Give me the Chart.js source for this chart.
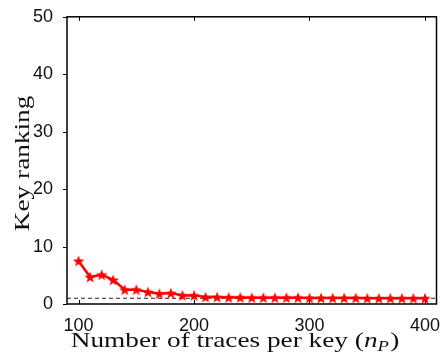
<!DOCTYPE html>
<html>
<head>
<meta charset="utf-8">
<script src="https://cdn.jsdelivr.net/npm/chart.js@4"></script>
<style>
  html, body { margin: 0; padding: 0; background: #fff; }
  #wrap { width: 445px; height: 360px; }
</style>
</head>
<body>
<div id="wrap"><canvas id="grafico"></canvas></div>
<script>
// dados
const nTraces = [100, 110, 120, 130, 140, 150, 160, 170, 180, 190, 200, 210, 220, 230, 240, 250,
  260, 270, 280, 290, 300, 310, 320, 330, 340, 350, 360, 370, 380, 390, 400]
const keyRanking = [7.5, 4.7, 5.1, 4.2, 2.5, 2.5, 2.1, 1.8, 1.9, 1.5, 1.5, 1.2, 1.2, 1.15, 1.15, 1.1,
  1.1, 1.1, 1.1, 1.1, 1.05, 1.05, 1.05, 1.05, 1.05, 1.0, 1.0, 1.0, 1.0, 1.0, 1.0]
const refLevel = 1
const xRange = [90, 410]
const yTicks = [0, 10, 20, 30, 40, 50]
const xTicks = [100, 200, 300, 400]

// estrela cheia para os marcadores
function makeStar(r, color) {
  const c = document.createElement('canvas')
  const s = Math.ceil(r * 2 + 2)
  c.width = s; c.height = s
  const g = c.getContext('2d')
  g.translate(s / 2, s / 2 + r * 0.1)
  g.beginPath()
  for (let i = 0; i < 10; i++) {
    const rad = i % 2 === 0 ? r : r * 0.42
    const a = -Math.PI / 2 + i * Math.PI / 5
    g.lineTo(rad * Math.cos(a), rad * Math.sin(a))
  }
  g.closePath()
  g.fillStyle = color
  g.fill()
  return c
}
const star = makeStar(6, '#ff0000')

// moldura, marcas e títulos
const framePlugin = {
  id: 'frame',
  afterDraw(chart) {
    const { ctx, chartArea: a, scales } = chart
    ctx.save()
    ctx.strokeStyle = '#000'
    ctx.lineWidth = 1.5
    ctx.strokeRect(a.left, a.top, a.right - a.left, a.bottom - a.top)
    ctx.lineWidth = 1
    ctx.beginPath()
    xTicks.forEach(v => {
      const x = Math.round(scales.x.getPixelForValue(v)) + 0.5
      ctx.moveTo(x, a.bottom); ctx.lineTo(x, a.bottom - 4)
      ctx.moveTo(x, a.top); ctx.lineTo(x, a.top + 4)
    })
    yTicks.forEach(v => {
      const y = Math.round(scales.y.getPixelForValue(v)) + 0.5
      ctx.moveTo(a.left, y); ctx.lineTo(a.left - 4, y)
    })
    ctx.stroke()

    ctx.fillStyle = '#111'
    ctx.textBaseline = 'alphabetic'
    const stretch = 1.24
    // título do eixo x com n_P
    const base = 'Number of traces per key ('
    const fMain = '22px "Liberation Serif"'
    const fIt = 'italic 22px "Liberation Serif"'
    const fSub = 'italic 15px "Liberation Serif"'
    ctx.font = fMain
    const w1 = ctx.measureText(base).width
    const wClose = ctx.measureText(')').width
    ctx.font = fIt
    const wn = ctx.measureText('n').width
    ctx.font = fSub
    const wp = ctx.measureText('P').width
    const total = (w1 + wn + wp + 1 + wClose) * stretch
    ctx.save()
    ctx.translate(235 - total / 2, 347)
    ctx.scale(stretch, 1)
    let x = 0
    ctx.font = fMain; ctx.textAlign = 'left'
    ctx.fillText(base, x, 0); x += w1
    ctx.font = fIt; ctx.fillText('n', x, 0); x += wn
    ctx.font = fSub; ctx.fillText('P', x, 4); x += wp + 1
    ctx.font = fMain; ctx.fillText(')', x, 0)
    ctx.restore()

    // título do eixo y
    ctx.translate(29, (a.top + a.bottom) / 2 + 3)
    ctx.rotate(-Math.PI / 2)
    ctx.scale(stretch, 1)
    ctx.textAlign = 'center'
    ctx.font = fMain
    ctx.fillText('Key ranking', 0, 0)
    ctx.restore()
  }
}

const ctx = document.getElementById('grafico').getContext('2d')
const grafico = new Chart(ctx, {
  type: 'line',
  data: {
    datasets: [
      {
        label: 'Key ranking',
        data: nTraces.map((n, i) => ({ x: n, y: keyRanking[i] })),
        borderColor: '#ff0000',
        backgroundColor: '#ff0000',
        borderWidth: 2.5,
        pointStyle: star,
        pointRadius: 6,
        tension: 0,
        order: 1
      },
      {
        label: 'ref',
        data: xRange.map(x => ({ x: x, y: refLevel })),
        borderColor: '#222',
        borderWidth: 1,
        borderDash: [4, 3],
        pointRadius: 0,
        order: 2
      }
    ]
  },
  options: {
    responsive: true,
    maintainAspectRatio: false,
    animation: false,
    layout: { padding: { left: 0, top: 12, right: 8, bottom: 0 } },
    plugins: {
      legend: { display: false },
      tooltip: { enabled: false }
    },
    scales: {
      x: {
        type: 'linear',
        min: xRange[0],
        max: xRange[1],
        afterBuildTicks: s => { s.ticks = xTicks.map(v => ({ value: v })) },
        afterFit: s => { s.height = 56 },
        grid: { display: false },
        border: { display: false },
        ticks: { color: '#111', font: { family: 'Liberation Sans', size: 18 }, padding: 3, maxRotation: 0 }
      },
      y: {
        min: 0,
        max: 50,
        afterBuildTicks: s => { s.ticks = yTicks.map(v => ({ value: v })) },
        afterFit: s => { s.width = 67 },
        grid: { display: false },
        border: { display: false },
        ticks: { color: '#111', font: { family: 'Liberation Sans', size: 18 }, padding: 6 }
      }
    }
  },
  plugins: [framePlugin]
})
</script>
</body>
</html>
